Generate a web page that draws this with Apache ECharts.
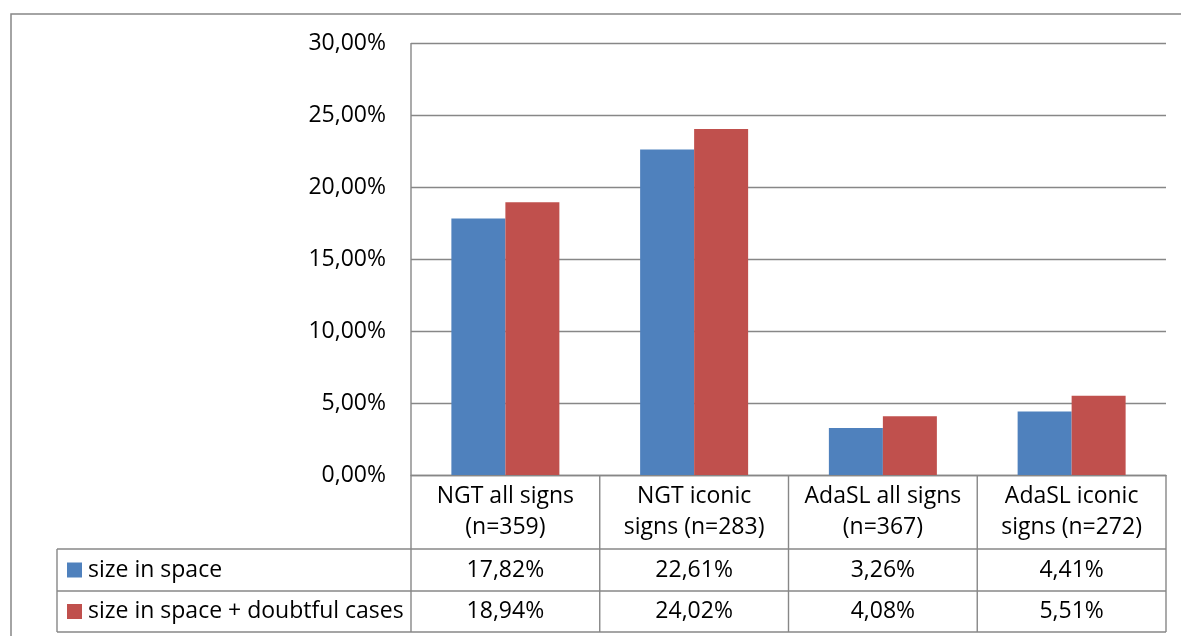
<!DOCTYPE html>
<html>
<head>
<meta charset="utf-8">
<script src="https://cdn.jsdelivr.net/npm/echarts@6/dist/echarts.min.js"></script>
<style>
html,body{margin:0;padding:0;background:#fff;}
#c{width:1181px;height:636px;}
</style>
</head>
<body>
<div id="c"></div>
<script>
const categories = ['NGT all signs\n(n=359)', 'NGT iconic\nsigns (n=283)', 'AdaSL all signs\n(n=367)', 'AdaSL iconic\nsigns (n=272)'];
const seriesNames = ['size in space', 'size in space + doubtful cases'];
const sizeInSpace = [17.82, 22.61, 3.26, 4.41];
const sizeInSpaceDoubtful = [18.94, 24.02, 4.08, 5.51];
const yTicks = { min: 0, max: 30, interval: 5 };

const FONT = '"Open Sans", "Noto Sans", sans-serif';
const FS = 23;
const LINE = '#878787';
const colors = ['#4F81BD', '#C0504D'];
const fmt = v => v.toFixed(2).replace('.', ',') + '%';

const G = { left: 411, right: 1166, top: 43, bottom: 475 };
const rowY = [549, 591, 632];
const legendLeft = 57;

const chart = echarts.init(document.getElementById('c'), null, { renderer: 'canvas' });

const catW = (G.right - G.left) / categories.length;
const graphics = [];
// outer frame
graphics.push({ type: 'rect', shape: { x: 11, y: 14, width: 1200, height: 700 }, style: { fill: 'none', stroke: LINE, lineWidth: 1.5 }, silent: true });
// table horizontal lines
rowY.forEach(y => graphics.push({ type: 'line', shape: { x1: legendLeft, y1: y, x2: G.right, y2: y }, style: { stroke: LINE, lineWidth: 1.4 } }));
// vertical lines
graphics.push({ type: 'line', shape: { x1: legendLeft, y1: rowY[0], x2: legendLeft, y2: rowY[2] }, style: { stroke: LINE, lineWidth: 1.4 } });
graphics.push({ type: 'line', shape: { x1: G.left, y1: G.top, x2: G.left, y2: rowY[2] }, style: { stroke: LINE, lineWidth: 1.4 } });
for (let i = 1; i <= categories.length; i++) {
  const x = G.left + i * catW;
  graphics.push({ type: 'line', shape: { x1: x, y1: G.bottom, x2: x, y2: rowY[2] }, style: { stroke: LINE, lineWidth: 1.4 } });
}
// legend keys and row names, values
[sizeInSpace, sizeInSpaceDoubtful].forEach((vals, r) => {
  const yc = (rowY[r] + rowY[r + 1]) / 2;
  graphics.push({ type: 'rect', shape: { x: 67, y: yc - 7.5, width: 15, height: 15 }, style: { fill: colors[r] } });
  graphics.push({ type: 'text', x: 88, y: yc, style: { text: seriesNames[r], font: FS + 'px ' + FONT, fill: '#000', textVerticalAlign: 'middle', verticalAlign: 'middle', textAlign: 'left' } });
  vals.forEach((v, i) => {
    const xc = G.left + (i + 0.5) * catW;
    graphics.push({ type: 'text', x: xc, y: yc, style: { text: fmt(v), font: FS + 'px ' + FONT, fill: '#000', align: 'center', verticalAlign: 'middle', textAlign: 'center', textVerticalAlign: 'middle' } });
  });
});

const option = {
  animation: false,
  backgroundColor: '#fff',
  textStyle: { fontFamily: FONT },
  grid: { left: G.left, top: G.top, width: G.right - G.left, height: G.bottom - G.top, containLabel: false },
  xAxis: {
    type: 'category',
    data: categories,
    axisLine: { show: true, lineStyle: { color: LINE, width: 1.4 } },
    axisTick: { show: false },
    axisLabel: { color: '#000', fontFamily: FONT, fontSize: FS, lineHeight: 31, margin: 6, interval: 0 }
  },
  yAxis: {
    type: 'value',
    min: yTicks.min, max: yTicks.max, interval: yTicks.interval,
    axisLine: { show: false },
    axisTick: { show: false },
    splitLine: { lineStyle: { color: LINE, width: 1.4 } },
    axisLabel: { color: '#000', fontFamily: FONT, fontSize: FS, margin: 25, formatter: v => fmt(v) }
  },
  series: [
    { name: seriesNames[0], type: 'bar', data: sizeInSpace, barWidth: 54, barGap: '0%', itemStyle: { color: colors[0] } },
    { name: seriesNames[1], type: 'bar', data: sizeInSpaceDoubtful, barWidth: 54, barGap: '0%', itemStyle: { color: colors[1] } }
  ],
  graphic: graphics
};
chart.setOption(option);
</script>
</body>
</html>
